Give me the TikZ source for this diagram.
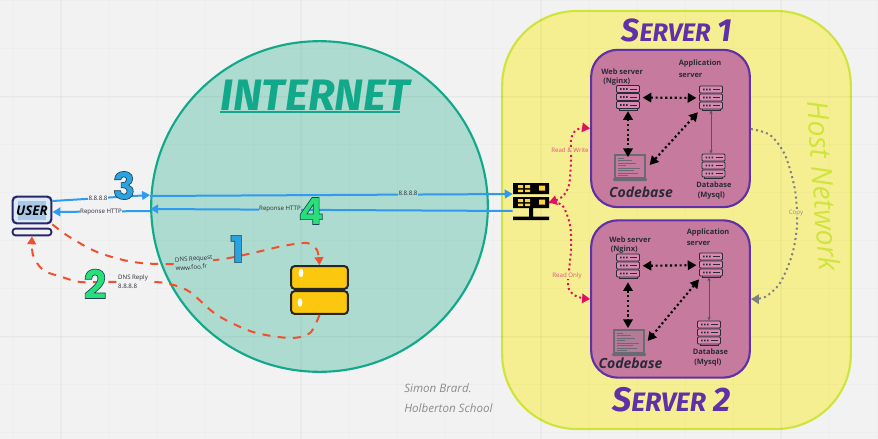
\documentclass[tikz,border=0pt]{standalone}
\usepackage{fontspec}
\setmainfont{Open Sans}
\newfontfamily\handfont{Fira Sans}
\newfontfamily\bubblefont{Poppins}
\usetikzlibrary{arrows.meta,calc,shapes.geometric}
\definecolor{bgc}{HTML}{F2F2F2}
\definecolor{tealf}{HTML}{AEDBD0}
\definecolor{teald}{HTML}{12A88A}
\definecolor{yelf}{HTML}{F5EF92}
\definecolor{yeld}{HTML}{CFE43E}
\definecolor{pinkf}{HTML}{C67A9E}
\definecolor{purp}{HTML}{6030A8}
\definecolor{navy}{HTML}{27266A}
\definecolor{scr}{HTML}{A8C8E8}
\definecolor{bluel}{HTML}{2E9BF0}
\definecolor{redl}{HTML}{F0502D}
\definecolor{mag}{HTML}{E0105F}
\definecolor{numb}{HTML}{2AA3E0}
\definecolor{numg}{HTML}{28E07A}
\definecolor{ink}{HTML}{2A2A38}
\definecolor{goldf}{HTML}{FBC80F}
\definecolor{rackf}{HTML}{D68AB0}
\newcommand{\outl}[1]{\special{pdf:code q 2 Tr 0.5 w 0.13 0.27 0.33 RG}#1\special{pdf:code Q}}
\tikzset{
  x=0.75pt,y=-0.75pt,
  lab/.style={inner sep=0.5pt,font=\fontsize{4.6}{6.6}\selectfont,text=ink,align=left},
  bl/.style={inner sep=0,text=ink,align=left,anchor=west,font=\fontsize{5.6}{8}\selectfont\bfseries},
  boxp/.style={draw=purp,line width=1.6pt,fill=pinkf,rounded corners=20pt,minimum width=119pt,minimum height=118pt,inner sep=0},
  iconbox/.style={inner sep=0,minimum width=17.5pt,minimum height=18pt},
  lapbox/.style={inner sep=0,minimum width=25pt,minimum height=20pt},
  bluearrow/.style={draw=bluel,line width=1.5pt,-{Triangle[length=6pt,width=6.5pt]}},
  reddash/.style={draw=redl,line width=1.5pt,dash pattern=on 6pt off 5.5pt,-{Triangle[length=6pt,width=6.5pt]}},
  magdot/.style={draw=mag,line width=1.5pt,dash pattern=on 1.5pt off 2.2pt,{Triangle[length=6pt,width=7pt]}-{Triangle[length=6pt,width=7pt]}},
  blkdot/.style={draw=black,line width=1.6pt,dash pattern=on 1.6pt off 2pt,{Triangle[length=6.5pt,width=7pt]}-{Triangle[length=6.5pt,width=7pt]}},
  thinl/.style={draw=ink!80,line width=.6pt,{Stealth[length=3pt,width=2.5pt]}-{Stealth[length=3pt,width=2.5pt]}},
  graydot/.style={draw=gray,line width=1.5pt,dash pattern=on 1.5pt off 2.4pt,-{Triangle[length=6pt,width=7pt]}},
  num/.style={inner sep=0,font=\fontsize{28}{28}\selectfont\bubblefont\bfseries},
  srv/.style={inner sep=0,text=purp,font=\handfont\bfseries\itshape},
  cb/.style={inner sep=0,text=ink,font=\fontsize{10.5}{10.5}\selectfont\bfseries\itshape},
  goldbox/.style={draw=black!85,line width=1.5pt,fill=goldf,rounded corners=2.5pt,minimum width=42.5pt,minimum height=17pt,inner sep=0}
}
\newcommand{\rackicon}[1]{%
 \begin{scope}[shift={(#1.center)}]
  \foreach \yy in {-12,-4,4}{
   \draw[draw=ink,line width=.7pt,fill=rackf,rounded corners=.8pt] (-11.5,\yy) rectangle (11.5,\yy+7);
   \fill[ink] (-8,\yy+2.6) rectangle (-6.5,\yy+4.4) (-5,\yy+2.6) rectangle (-3.5,\yy+4.4) (-2,\yy+2.6) rectangle (-.5,\yy+4.4);
   \draw[ink,line width=.6pt] (2,\yy+3.5) -- (9,\yy+3.5);
  }
  \draw[ink,line width=.7pt] (-9,11) -- (-9,12.5) -- (9,12.5) -- (9,11);
 \end{scope}}
\newcommand{\lapicon}[2]{%
 \begin{scope}[shift={(#1.center)}]
  \draw[draw=ink!70,line width=1pt,fill=#2] (-15,-13) rectangle (15,10);
  \foreach \yy/\ww in {-10/6,-7.5/14,-5/18,-2.5/8,0/22,2.5/16,5/20,7.5/10}{
   \draw[ink!70,line width=.4pt] (-12,\yy) -- (-12+\ww,\yy);
  }
  \fill[ink!70,rounded corners=.8pt] (-17,10) rectangle (17,13);
 \end{scope}}
\begin{document}
\begin{tikzpicture}
\useasboundingbox (0,0) rectangle (878,439);
\fill[bgc] (0,0) rectangle (878,439);
% large regions
\node[draw=teald,line width=1.6pt,fill=tealf,ellipse,inner sep=0,minimum width=252.5pt,minimum height=248pt] (net) at (319.5,206.5) {};
\node[draw=yeld,line width=1.6pt,fill=yelf,rounded corners=56pt,minimum width=261.5pt,minimum height=313.5pt,inner sep=0] (host) at (676.5,220) {};
% faint grid
\begin{scope}
\foreach \k in {0,...,18}{\fill[black,opacity=.015] ({12.5+48*\k},0) rectangle ({13.5+48*\k},439);}
\foreach \k in {0,...,9}{\fill[black,opacity=.015] (0,{48*\k}) rectangle (878,{1+48*\k});}
\foreach \k in {0,...,3}{\fill[black,opacity=.02] ({60+240*\k},0) rectangle ({61.5+240*\k},439);}
\foreach \k in {0,1}{\fill[black,opacity=.02] (0,{96+240*\k}) rectangle (878,{97.5+240*\k});}
\end{scope}
% server boxes
\node[boxp] (s1) at (670.5,128.5) {};
\node[boxp] (s2) at (670.5,299) {};
% titles
\node[inner sep=0,text=teald,font=\fontsize{33}{33}\selectfont\handfont\bfseries\itshape] (inet) at (315,95) {INTERNET};
\draw[teald,line width=1.6pt] (220,112) -- (400,112);
\node[srv,font=\handfont\bfseries\itshape\fontsize{24}{24}\selectfont] (t1) at (677,30) {S\fontsize{19}{19}\selectfont ERVER\fontsize{24}{24}\selectfont{} 1};
\node[srv,font=\handfont\bfseries\itshape\fontsize{25.5}{25.5}\selectfont] (t2) at (671.5,400) {S\fontsize{20}{20}\selectfont ERVER\fontsize{25.5}{25.5}\selectfont{} 2};
\node[inner sep=0,rotate=-86,text=yeld,font=\fontsize{21.5}{21.5}\selectfont\itshape] (hn) at (824,186) {Host Network};
\node[inner sep=0,align=left,text=black!45,font=\fontsize{8.7}{15}\selectfont\itshape,anchor=west] (sig) at (404,398.5) {Simon Brard.\\Holberton School};
% user
\node[draw=navy,line width=1.6pt,fill=white!60!scr,rounded corners=3pt,minimum width=29pt,minimum height=20pt,inner sep=0] (user) at (32,210) {};
\fill[scr] (18,201) rectangle (46,220);
\node[inner sep=0,text=black,font=\fontsize{10}{10}\selectfont\bfseries\itshape] (usert) at (32,211) {USER};
\node[draw=navy,line width=1.4pt,fill=bgc,rounded corners=2pt,minimum width=29pt,minimum height=5pt,inner sep=0] (base) at (32,232) {};
% DNS server
\node[goldbox] (g1) at (319.5,277.5) {};
\node[goldbox] (g2) at (319.5,302.5) {};
\fill[white] (301,273) ellipse (2.4 and 4.2) (300,302.5) ellipse (2.4 and 4.2);
% router
\node[inner sep=0,minimum width=27pt,minimum height=27.5pt] (rt) at (531,201.5) {};
\begin{scope}[shift={(rt.center)}]
\fill[black] (-18,-18.5) rectangle (18,-7.5) (-18,-4.5) rectangle (18,6.5) (-2,6.5) rectangle (2,15) (-18,15) rectangle (18,18.5);
\fill[goldf!80!white] (-13,-16.5) rectangle (-8,-13.5) (-6,-16.5) rectangle (-1,-13.5) (-13,-12) rectangle (-8,-9.5) (-6,-12) rectangle (-1,-9.5) (8,-16) rectangle (14,-11);
\fill[goldf!80!white] (-13,-2.5) rectangle (-8,.5) (-6,-2.5) rectangle (-1,.5) (-13,2) rectangle (-8,4.5) (-6,2) rectangle (-1,4.5) (8,-2) rectangle (14,3);
\end{scope}
% racks
\node[iconbox] (web1) at (628,97.5) {}; \rackicon{web1}
\node[iconbox] (app1) at (711,98) {}; \rackicon{app1}
\node[iconbox] (db1) at (713.5,166) {}; \rackicon{db1}
\node[iconbox] (web2) at (628,266) {}; \rackicon{web2}
\node[iconbox] (app2) at (711,265) {}; \rackicon{app2}
\node[iconbox] (db2) at (709,333) {}; \rackicon{db2}
\node[lapbox] (lap1) at (630,168) {}; \lapicon{lap1}{pinkf}
\node[lapbox] (lap2) at (629,343) {}; \lapicon{lap2}{pinkf!75!gray}
% server connectors
\draw[blkdot,shorten <=2pt,shorten >=2pt] (web1) -- (app1);
\draw[blkdot,shorten <=1pt,shorten >=-2pt] (web1) -- (lap1.north -| web1);
\draw[blkdot,shorten <=2pt,shorten >=3pt] (app1) -- (lap1.east);
\draw[thinl] (app1) -- (db1.north -| app1);
\draw[blkdot,shorten <=2pt,shorten >=2pt] (web2) -- (app2);
\draw[blkdot,shorten <=3pt,shorten >=1pt] (web2) -- (lap2.north -| web2);
\draw[blkdot,shorten <=2pt,shorten >=2pt] (app2) -- (lap2.east);
\draw[thinl] (app2.south -| db2) -- (db2);
% text in servers
\node[bl] (w1a) at (601,72) {Web server};
\node[bl] (w1b) at (603,82) {(Nginx)};
\node[bl] (a1a) at (678.5,64) {Application};
\node[bl] (a1b) at (678.5,75) {server};
\node[bl] (d1a) at (696,185) {Database};
\node[bl] (d1b) at (697.5,195.5) {(Mysql)};
\node[bl] (w2a) at (609,239.5) {Web server};
\node[bl] (w2b) at (610.5,249.5) {(Nginx)};
\node[bl] (a2a) at (686.5,232.5) {Application};
\node[bl] (a2b) at (686.5,243.5) {server};
\node[bl] (d2a) at (692.5,351.5) {Database};
\node[bl] (d2b) at (694,362.5) {(Mysql)};
\node[cb] (c1) at (641,192) {Codebase};
\node[cb] (c2) at (630.5,363) {Codebase};
% pink connectors
\draw[magdot] (rt.east) ++(-.5,1) coordinate (rte) plot[smooth] coordinates {(rte) (562,197) (569,185) (571,160) (571,140) (575,131) (582,128) (s1.west |- 0,128.5)};
\draw[magdot,-{Triangle[length=6pt,width=7pt]}] plot[smooth] coordinates {(rte) (562,205) (570,225) (571,250) (568,285) (574,295) (582,298) (s2.west |- 0,299)};
\node[lab,text=mag!75!white,fill=yelf,inner sep=0] (rw) at (570,150) {Read \& Write};
\node[lab,text=mag!75!white,fill=yelf,inner sep=0] (ro) at (567,276) {Read Only};
% copy connector
\draw[graydot] plot[smooth] coordinates {(s1.east |- 0,129) (770,135) (785,155) (795,190) (797,225) (792,255) (780,283) (765,297) (s2.east |- 0,299)};
\node[lab,text=black!45,fill=yelf,inner sep=.5pt] (cp) at (796,213) {Copy};
% blue arrows
\draw[bluearrow] (user.east |- 0,201) -- (net.west |- 0,195);
\draw[bluearrow] (net.west |- 0,196) -- (rt.west |- 0,194);
\draw[bluearrow] (rt.west |- 0,211) -- (net.west |- 0,209);
\draw[bluearrow] (net.west |- 0,211) -- (user.east |- 0,212);
\node[lab,fill=bgc] (ip1) at (98,198) {8.8.8.8};
\node[lab,fill=tealf] (ip2) at (408,193.5) {8.8.8.8};
\node[lab,fill=bgc] (rh1) at (101,212) {Reponse HTTP};
\node[lab,fill=tealf] (rh2) at (280,209.5) {Reponse HTTP};
% red dashed
\draw[reddash] plot[smooth] coordinates {(user.south east) (68,236) (97,252) (133,262) (173,264) (223,259) (257,252) (283,246) (307,243) (317,250) (g1.north)};
\draw[reddash] plot[smooth] coordinates {(g2.south) (310,333) (290,338) (253,332) (217,315) (190,292) (170,284) (153,282) (107,282) (80,282) (62,277) (43,270) (33,255) (base.south)};
\node[lab,rotate=4,fill=tealf] (dq) at (194,263) {DNS Request\\www.foo.fr};
\node[lab,fill=bgc] (dr) at (133,282) {DNS Reply\\8.8.8.8};
% numbers
\node[num,text=numb] (n1) at (237,249) {\outl{1}};
\node[num,text=numg,font=\fontsize{30}{30}\selectfont\bubblefont\bfseries] (n2) at (95,284) {\outl{2}};
\node[num,text=numb] (n3) at (124,185.5) {\outl{3}};
\node[num,text=numg] (n4) at (311,211) {\outl{4}};
\end{tikzpicture}
\end{document}
